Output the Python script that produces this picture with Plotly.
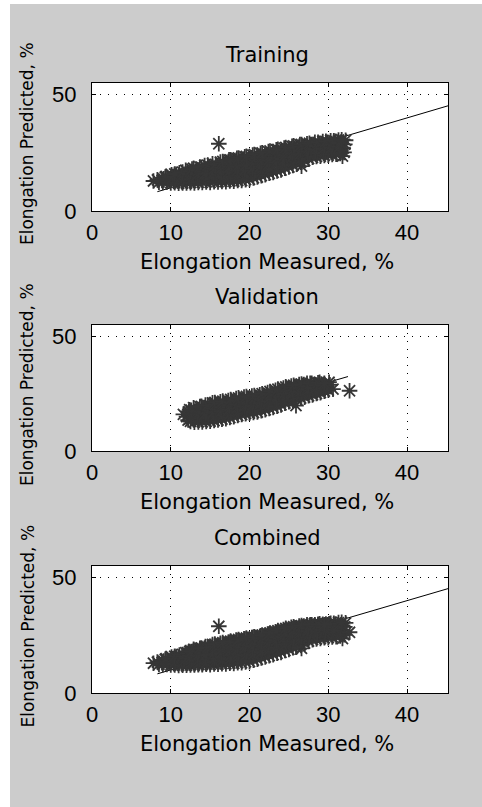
import plotly.graph_objects as go

W, H = 482, 807

# ---------------- data ----------------
panel_titles = ["Training", "Validation", "Combined"]
x_label = "Elongation Measured, %"
y_label = "Elongation Predicted, %"
x_ticks = [0, 10, 20, 30, 40]
y_ticks = [0, 50]

train_measured = [
    7.8, 8.3, 8.5,
    9.0, 9.1, 9.3, 8.9,
    10.0, 9.8, 10.2, 10.1, 10.4,
    11.0, 10.8, 11.2, 11.1, 11.4, 10.7,
    12.0, 11.8, 12.2, 12.1, 11.9, 12.4,
    13.0, 12.8, 13.2, 13.1, 12.9, 13.4, 13.3,
    14.0, 13.8, 14.2, 14.1, 13.9, 14.3, 14.4,
    15.0, 14.8, 15.2, 15.1, 14.9, 15.3, 15.4,
    16.0, 15.8, 16.2, 16.1, 15.9, 16.3, 16.4,
    17.0, 16.8, 17.2, 17.1, 16.9, 17.3, 17.4,
    18.0, 17.8, 18.2, 18.1, 17.9, 18.3, 18.4,
    19.0, 18.8, 19.2, 19.1, 18.9, 19.3, 19.4,
    20.0, 19.8, 20.2, 20.1, 19.9, 20.3, 20.4,
    21.0, 20.8, 21.2, 21.1, 20.9, 21.3, 21.4,
    22.0, 21.8, 22.2, 22.1, 21.9, 22.3, 22.4,
    23.0, 22.8, 23.2, 23.1, 22.9, 23.3, 23.4,
    24.0, 23.8, 24.2, 24.1, 23.9, 24.3, 24.4,
    25.0, 24.8, 25.2, 25.1, 24.9, 25.3, 25.4,
    26.0, 25.8, 26.2, 26.1, 25.9, 26.3, 26.4, 26.6,
    27.0, 26.8, 27.2, 27.1, 26.9, 27.3,
    28.0, 27.8, 28.2, 28.1, 27.9, 28.3,
    29.0, 28.8, 29.2, 29.1, 28.9, 29.3,
    30.0, 29.8, 30.2, 30.1, 29.9, 30.3,
    31.0, 30.8, 31.2, 31.1, 30.9, 31.3,
    31.8, 32.0, 31.9, 32.1, 32.2,
    16.1,
    9.5, 9.6, 9.4,
    10.5, 10.6, 10.4, 10.5,
    11.5, 11.6, 11.4, 11.5,
    12.5, 12.6, 12.4, 12.5, 12.7,
    13.5, 13.6, 13.4, 13.5, 13.7,
    14.5, 14.6, 14.4, 14.5, 14.7,
    15.5, 15.6, 15.4, 15.5, 15.7,
    16.5, 16.6, 16.4, 16.5, 16.7, 16.6,
    17.5, 17.6, 17.4, 17.5, 17.7, 17.6,
    18.5, 18.6, 18.4, 18.5, 18.7, 18.6,
    19.5, 19.6, 19.4, 19.5, 19.7, 19.6,
    20.5, 20.6, 20.4, 20.5, 20.7, 20.6,
    21.5, 21.6, 21.4, 21.5, 21.7, 21.6,
    22.5, 22.6, 22.4, 22.5, 22.7, 22.6,
    23.5, 23.6, 23.4, 23.5, 23.7, 23.6,
    24.5, 24.6, 24.4, 24.5, 24.7, 24.6,
    25.5, 25.6, 25.4, 25.5, 25.7, 25.6,
    26.5, 26.6, 26.4, 26.5, 26.7, 26.6,
    27.5, 27.6, 27.4, 27.5, 27.7, 27.6,
    28.5, 28.6, 28.4, 28.5, 28.7,
    29.5, 29.6, 29.4, 29.5, 29.7,
    30.5, 30.6, 30.4, 30.5, 30.7,
    31.5, 31.6, 31.4, 31.5, 31.7,
]
train_predicted = [
    12.9, 13.4, 12.4,
    12.3, 13.8, 14.6, 13.1,
    12.1, 13.5, 14.8, 15.6, 12.9,
    11.9, 13.4, 14.9, 16.4, 12.6, 15.8,
    12.0, 13.7, 15.2, 16.8, 17.5, 14.3,
    12.1, 13.8, 15.3, 16.9, 18.4, 14.6, 17.6,
    12.3, 13.9, 15.6, 17.2, 18.8, 19.5, 14.8,
    12.3, 14.1, 15.8, 17.5, 19.1, 20.3, 16.6,
    12.5, 14.2, 15.9, 17.7, 19.4, 21.0, 13.4,
    12.6, 14.4, 16.1, 17.9, 19.7, 21.2, 22.0,
    12.8, 14.6, 16.4, 18.3, 20.1, 21.8, 22.6,
    13.1, 14.9, 16.8, 18.7, 20.6, 22.3, 23.3,
    13.6, 15.4, 17.3, 19.2, 21.1, 22.9, 24.0,
    14.6, 16.3, 18.1, 19.9, 21.7, 23.4, 24.8,
    15.6, 17.3, 19.0, 20.8, 22.5, 24.2, 25.5,
    16.6, 18.3, 20.0, 21.7, 23.4, 25.0, 26.3,
    17.6, 19.3, 21.0, 22.7, 24.3, 25.8, 27.0,
    18.9, 20.5, 22.1, 23.7, 25.3, 26.7, 27.8,
    20.1, 21.7, 23.3, 24.9, 26.5, 27.8, 28.5, 19.3,
    21.6, 23.1, 24.6, 26.1, 27.6, 28.9,
    23.1, 24.5, 25.9, 27.3, 28.6, 29.5,
    23.6, 25.0, 26.4, 27.8, 29.1, 29.8,
    24.0, 25.4, 26.8, 28.2, 29.5, 30.2,
    24.4, 25.8, 27.2, 28.6, 29.9, 30.5,
    23.6, 25.2, 27.0, 28.6, 30.4,
    28.9,
    12.4, 13.6, 14.9,
    12.2, 13.5, 14.8, 15.9,
    12.0, 13.6, 15.1, 16.7,
    12.2, 13.9, 15.5, 17.0, 18.0,
    12.3, 14.0, 15.7, 17.4, 18.9,
    12.5, 14.3, 16.1, 17.9, 19.7,
    12.6, 14.4, 16.3, 18.2, 20.0,
    12.7, 14.6, 16.6, 18.6, 20.5, 21.3,
    12.9, 14.8, 16.9, 19.0, 21.0, 22.0,
    13.1, 15.1, 17.2, 19.3, 21.4, 22.8,
    13.5, 15.5, 17.6, 19.7, 21.8, 23.5,
    14.2, 16.2, 18.3, 20.4, 22.5, 24.3,
    15.2, 17.1, 19.1, 21.1, 23.1, 25.0,
    16.2, 18.1, 20.0, 21.9, 23.9, 25.8,
    17.2, 19.1, 21.0, 22.9, 24.8, 26.5,
    18.4, 20.2, 22.0, 23.9, 25.8, 27.3,
    19.6, 21.3, 23.1, 24.9, 26.7, 28.0,
    21.0, 22.6, 24.3, 26.0, 27.6, 28.6,
    22.5, 24.0, 25.5, 27.0, 28.4, 29.1,
    23.4, 24.8, 26.3, 27.8, 29.5,
    23.9, 25.3, 26.8, 28.3, 29.9,
    24.3, 25.7, 27.2, 28.7, 30.2,
    24.7, 26.1, 27.6, 29.1, 30.6,
]

valid_measured = [
    11.6, 12.2, 12.0, 12.3, 12.4,
    13.0, 12.8, 13.2, 13.1, 12.9,
    14.0, 13.8, 14.2, 14.1, 13.9, 14.4,
    15.0, 14.8, 15.2, 15.1, 14.9, 15.3,
    16.0, 15.8, 16.2, 16.1, 15.9, 16.3,
    17.0, 16.8, 17.2, 17.1, 16.9, 17.3,
    18.0, 17.8, 18.2, 18.1, 17.9, 18.3,
    19.0, 18.8, 19.2, 19.1, 18.9, 19.3,
    20.0, 19.8, 20.2, 20.1, 19.9, 20.3,
    21.0, 20.8, 21.2, 21.1, 20.9, 21.3,
    22.0, 21.8, 22.2, 22.1, 21.9, 22.3,
    23.0, 22.8, 23.2, 23.1, 22.9, 23.3,
    24.0, 23.8, 24.2, 24.1, 23.9, 24.3,
    25.0, 24.8, 25.2, 25.1, 24.9, 25.3,
    26.0, 25.8, 26.2, 26.1, 25.9, 26.3, 25.9,
    27.0, 26.8, 27.2, 27.1, 26.9, 27.3,
    28.0, 27.8, 28.2, 28.1, 27.9,
    29.0, 28.8, 29.2, 29.1, 28.9,
    30.0, 29.8, 30.2, 30.1,
    30.6, 32.7,
    12.5, 12.6, 12.4, 12.6,
    13.5, 13.6, 13.4, 13.5, 13.7,
    14.5, 14.6, 14.4, 14.5, 14.7,
    15.5, 15.6, 15.4, 15.5, 15.7, 15.6,
    16.5, 16.6, 16.4, 16.5, 16.7, 16.6,
    17.5, 17.6, 17.4, 17.5, 17.7, 17.6,
    18.5, 18.6, 18.4, 18.5, 18.7, 18.6,
    19.5, 19.6, 19.4, 19.5, 19.7, 19.6,
    20.5, 20.6, 20.4, 20.5, 20.7, 20.6,
    21.5, 21.6, 21.4, 21.5, 21.7, 21.6,
    22.5, 22.6, 22.4, 22.5, 22.7, 22.6,
    23.5, 23.6, 23.4, 23.5, 23.7, 23.6,
    24.5, 24.6, 24.4, 24.5, 24.7, 24.6,
    25.5, 25.6, 25.4, 25.5, 25.7, 25.6,
    26.5, 26.6, 26.4, 26.5, 26.7, 26.6,
    27.5, 27.6, 27.4, 27.5, 27.7,
    28.5, 28.6, 28.4, 28.5, 28.7,
    29.5, 29.6, 29.4, 29.5,
]
valid_predicted = [
    16.0, 13.5, 15.0, 17.2, 18.0,
    12.6, 14.2, 15.8, 17.4, 18.9,
    12.7, 14.4, 16.1, 17.8, 19.5, 20.1,
    13.0, 14.7, 16.4, 18.1, 19.8, 21.0,
    13.5, 15.2, 16.9, 18.6, 20.2, 21.5,
    14.1, 15.8, 17.5, 19.1, 20.7, 22.0,
    15.0, 16.7, 18.3, 19.9, 21.5, 22.9,
    15.9, 17.5, 19.1, 20.7, 22.2, 23.5,
    16.5, 18.1, 19.7, 21.3, 22.8, 24.0,
    17.0, 18.6, 20.2, 21.8, 23.3, 24.5,
    18.0, 19.6, 21.1, 22.7, 24.2, 25.5,
    19.0, 20.6, 22.1, 23.6, 25.1, 26.5,
    20.1, 21.6, 23.1, 24.6, 26.1, 27.5,
    21.5, 23.0, 24.4, 25.9, 27.3, 28.4,
    22.5, 24.0, 25.4, 26.8, 28.2, 29.0, 19.8,
    23.5, 25.0, 26.4, 27.8, 29.0, 29.5,
    24.5, 25.9, 27.2, 28.5, 29.5,
    25.5, 26.8, 28.0, 29.2, 30.0,
    26.6, 27.8, 28.9, 30.0,
    27.0, 26.3,
    12.9, 14.5, 16.2, 17.8,
    12.7, 14.4, 16.1, 17.8, 19.4,
    12.9, 14.6, 16.4, 18.2, 19.9,
    13.3, 15.0, 16.8, 18.6, 20.3, 21.2,
    13.9, 15.6, 17.3, 19.0, 20.8, 21.8,
    14.6, 16.3, 18.0, 19.7, 21.3, 22.5,
    15.5, 17.1, 18.7, 20.4, 22.0, 23.2,
    16.3, 17.9, 19.5, 21.0, 22.6, 23.8,
    16.8, 18.4, 20.0, 21.6, 23.1, 24.2,
    17.6, 19.2, 20.8, 22.3, 23.8, 25.0,
    18.6, 20.1, 21.7, 23.2, 24.7, 26.0,
    19.6, 21.1, 22.6, 24.1, 25.6, 27.0,
    20.9, 22.4, 23.9, 25.3, 26.7, 28.0,
    22.1, 23.5, 24.9, 26.3, 27.6, 28.7,
    23.1, 24.5, 25.9, 27.3, 28.5, 29.2,
    24.1, 25.4, 26.7, 28.0, 29.5,
    25.1, 26.3, 27.5, 28.7, 29.8,
    26.1, 27.2, 28.4, 29.5,
]

comb_measured = train_measured + valid_measured
comb_predicted = train_predicted + valid_predicted

# reference (ideal) line: predicted = measured
train_line = [8.3, 45.2]
valid_line = [11.6, 32.5]
comb_line = [8.3, 45.2]

panels = [
    (train_measured, train_predicted, train_line),
    (valid_measured, valid_predicted, valid_line),
    (comb_measured, comb_predicted, comb_line),
]

# ---------------- layout geometry (pixels) ----------------
PLOT_L, PLOT_R = 92, 448
PLOT_TB = [(83, 211), (325, 451), (566, 693)]


def fx(px):
    return px / W


def fy(py):
    return 1 - py / H


fig = go.Figure()

FONT_T = "DejaVu Sans"
FONT_N = "Liberation Sans"
CLOUD = "#363636"

annotations = []
for i, (xs, ys, ln) in enumerate(panels):
    n = "" if i == 0 else str(i + 1)
    top, bot = PLOT_TB[i]
    fig.add_trace(go.Scatter(
        x=ln, y=ln, mode="lines", line=dict(color="black", width=1),
        xaxis="x" + n, yaxis="y" + n, showlegend=False, hoverinfo="skip"))
    fig.add_trace(go.Scatter(
        x=xs, y=ys, mode="markers",
        marker=dict(symbol="asterisk-open", size=13,
                    line=dict(color=CLOUD, width=1.8), color=CLOUD),
        xaxis="x" + n, yaxis="y" + n, showlegend=False))

    axis_common = dict(
        showline=True, linecolor="black", linewidth=1, mirror="ticks",
        ticks="inside", ticklen=4, tickcolor="black", tickwidth=1,
        showgrid=True, gridcolor="black", gridwidth=1, griddash="1px,7px",
        zeroline=False, automargin=False,
        tickfont=dict(family=FONT_N, size=22, color="black"),
    )
    fig.update_layout(**{
        "xaxis" + n: dict(axis_common, domain=[fx(PLOT_L), fx(PLOT_R)],
                          range=[0, 45.2], tickvals=x_ticks,
                          anchor="y" + n, ticklabelstandoff=2),
        "yaxis" + n: dict(axis_common, domain=[fy(bot), fy(top)],
                          range=[0, 55], tickvals=y_ticks,
                          anchor="x" + n, ticklabelstandoff=10),
    })

    annotations.append(dict(
        text=panel_titles[i], x=fx(267), y=fy(top - 28), xref="paper",
        yref="paper", showarrow=False, xanchor="center", yanchor="middle",
        font=dict(family=FONT_T, size=21, color="black")))
    annotations.append(dict(
        text=x_label, x=fx(267), y=fy(bot + 51), xref="paper", yref="paper",
        showarrow=False, xanchor="center", yanchor="middle",
        font=dict(family=FONT_T, size=21, color="black")))
    annotations.append(dict(
        text=y_label, x=fx(27), y=fy((top + bot) / 2 - 3), xref="paper",
        yref="paper", showarrow=False, xanchor="center", yanchor="middle",
        textangle=-90, font=dict(family=FONT_T, size=17, color="black")))

fig.update_layout(
    width=W, height=H, margin=dict(l=0, r=0, t=0, b=0, pad=0),
    paper_bgcolor="#cccccc", plot_bgcolor="white",
    annotations=annotations,
    shapes=[
        dict(type="rect", xref="paper", yref="paper", x0=0, x1=fx(10),
             y0=0, y1=1, fillcolor="white", line=dict(width=0), layer="below"),
        dict(type="rect", xref="paper", yref="paper", x0=0, x1=1,
             y0=fy(4), y1=1, fillcolor="white", line=dict(width=0), layer="below"),
    ],
)

fig.write_html(
    "out.html",
    config={"responsive": False},
    post_script="document.body.style.margin='0';document.body.style.padding='0';"
                "document.body.style.overflow='hidden';",
)
